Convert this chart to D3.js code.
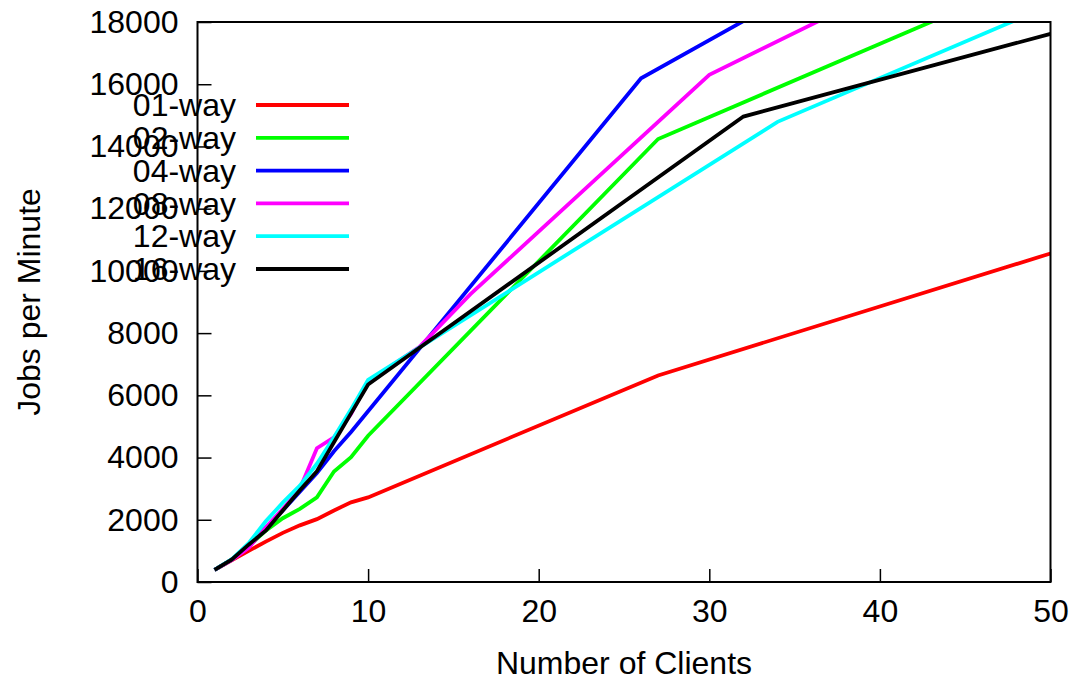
<!DOCTYPE html>
<html>
<head>
<meta charset="utf-8">
<script src="https://cdn.jsdelivr.net/npm/d3@7"></script>
<style>
  body { margin: 0; background: #fff; }
  text { font-family: "Liberation Sans", Arial, sans-serif; }
</style>
</head>
<body>
<svg id="chart"></svg>
<script>
var width = 1077;
var height = 682;

// series data
var seriesNames = ["01-way", "02-way", "04-way", "08-way", "12-way", "16-way"];
var seriesColors = ["#ff0000", "#00ff00", "#0000ff", "#ff00ff", "#00ffff", "#000000"];

var way01X = [1, 2, 3, 4, 5, 6, 7, 8, 9, 10, 27, 50];
var way01Y = [390, 700, 1000, 1300, 1580, 1820, 2020, 2300, 2560, 2720, 6640, 10560];

var way02X = [1, 2, 3, 4, 5, 6, 7, 8, 9, 10, 27, 50];
var way02Y = [390, 720, 1150, 1650, 2050, 2350, 2720, 3550, 4010, 4700, 14240, 19650];

var way04X = [1, 2, 3, 4, 5, 6, 7, 8, 9, 26, 50];
var way04Y = [390, 720, 1150, 1750, 2300, 2900, 3500, 4200, 4820, 16190, 23550];

var way08X = [1, 2, 3, 4, 5, 6, 7, 8, 9, 10, 13, 16, 30, 50];
var way08Y = [390, 700, 1100, 1750, 2350, 3000, 4300, 4650, 5400, 6450, 7550, 9250, 16300, 21700];

var way12X = [1, 2, 3, 4, 5, 6, 7, 8, 9, 10, 34, 50];
var way12Y = [390, 730, 1250, 1950, 2550, 3100, 3800, 4650, 5550, 6500, 14790, 18540];

var way16X = [1, 2, 3, 4, 5, 6, 7, 8, 9, 10, 32, 50];
var way16Y = [390, 720, 1200, 1650, 2300, 2950, 3560, 4490, 5420, 6350, 14960, 17620];

var xTicks = [0, 10, 20, 30, 40, 50];
var yTicks = [0, 2000, 4000, 6000, 8000, 10000, 12000, 14000, 16000, 18000];

var allX = [way01X, way02X, way04X, way08X, way12X, way16X];
var allY = [way01Y, way02Y, way04Y, way08Y, way12Y, way16Y];

var plotLeft = 197.5, plotRight = 1050.5, plotTop = 22, plotBottom = 582;
var fontSize = "32px";

var xScale = d3.scaleLinear().domain([0, 50]).range([plotLeft, plotRight]);
var yScale = d3.scaleLinear().domain([0, 18000]).range([plotBottom, plotTop]);

var svg = d3.select("#chart")
    .attr("width", width)
    .attr("height", height);

svg.append("defs").append("clipPath")
    .attr("id", "plotClip")
  .append("rect")
    .attr("x", plotLeft)
    .attr("y", plotTop)
    .attr("width", plotRight - plotLeft)
    .attr("height", plotBottom - plotTop);

var xAxis = d3.axisBottom(xScale)
    .tickValues(xTicks)
    .tickFormat(d3.format("d"))
    .tickSize(-13)
    .tickPadding(17);
var yAxis = d3.axisLeft(yScale)
    .tickValues(yTicks)
    .tickFormat(d3.format("d"))
    .tickSize(-14)
    .tickPadding(19);

var gx = svg.append("g")
    .attr("transform", "translate(0," + plotBottom + ")")
    .call(xAxis);
var gy = svg.append("g")
    .attr("transform", "translate(" + plotLeft + ",0)")
    .call(yAxis);

[gx, gy].forEach(function(g) {
  g.select(".domain").remove();
  g.selectAll(".tick line").attr("stroke", "#000").attr("stroke-width", 1.5);
  g.selectAll(".tick text")
    .attr("fill", "#000")
    .style("font-size", fontSize)
    .style("font-family", "'Liberation Sans', Arial, sans-serif");
});

var line = d3.line()
    .x(d => xScale(d[0]))
    .y(d => yScale(d[1]));

var plot = svg.append("g").attr("clip-path", "url(#plotClip)");

seriesNames.forEach(function(name, i) {
  var pts = allX[i].map((x, j) => [x, allY[i][j]]);
  plot.append("path")
    .datum(pts)
    .attr("fill", "none")
    .attr("stroke", seriesColors[i])
    .attr("stroke-width", 3.8)
    .attr("stroke-linejoin", "miter")
    .attr("d", line);
});

// frame
svg.append("rect")
    .attr("x", plotLeft)
    .attr("y", plotTop)
    .attr("width", plotRight - plotLeft)
    .attr("height", plotBottom - plotTop)
    .attr("fill", "none")
    .attr("stroke", "#000")
    .attr("stroke-width", 2);

// legend
var legend = svg.append("g");
seriesNames.forEach(function(name, i) {
  var ly = 105 + i * 32.8;
  legend.append("line")
    .attr("x1", 256)
    .attr("x2", 349)
    .attr("y1", ly)
    .attr("y2", ly)
    .attr("stroke", seriesColors[i])
    .attr("stroke-width", 3.8);
  legend.append("text")
    .attr("x", 236)
    .attr("y", ly)
    .attr("dy", "0.35em")
    .attr("text-anchor", "end")
    .style("font-size", fontSize)
    .text(name);
});

svg.append("text")
    .attr("transform", "translate(40," + ((plotTop + plotBottom) / 2) + ") rotate(-90)")
    .attr("text-anchor", "middle")
    .style("font-size", fontSize)
    .text("Jobs per Minute");

svg.append("text")
    .attr("x", (plotLeft + plotRight) / 2)
    .attr("y", 674)
    .attr("text-anchor", "middle")
    .style("font-size", fontSize)
    .text("Number of Clients");
</script>
</body>
</html>
